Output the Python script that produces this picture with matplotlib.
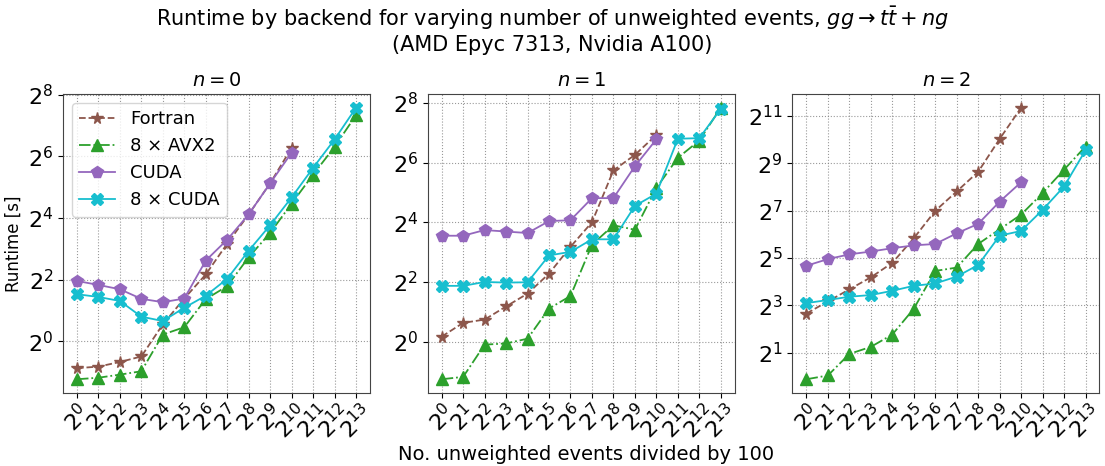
import numpy as np
import matplotlib
matplotlib.use('Agg')
import matplotlib.pyplot as plt
from matplotlib.ticker import NullLocator

# x positions: number of unweighted events / 100, as powers of two
exps = list(range(14))
labels = ['Fortran', '8 × AVX2', 'CUDA', '8 × CUDA']

# runtimes, stored as log2(seconds)
fortran_n0 = [-0.87, -0.82, -0.67, -0.49, 0.55, 1.39, 2.17, 3.17, 4.12, 5.13, 6.28]
avx2_n0 = [-1.23, -1.18, -1.08, -0.97, 0.22, 0.46, 1.37, 1.79, 2.73, 3.52, 4.47, 5.41, 6.31, 7.34]
cuda_n0 = [1.96, 1.83, 1.69, 1.38, 1.27, 1.39, 2.62, 3.30, 4.12, 5.13, 6.12]
cuda8_n0 = [1.53, 1.44, 1.31, 0.80, 0.66, 1.09, 1.48, 2.03, 2.94, 3.77, 4.67, 5.63, 6.55, 7.58]

fortran_n1 = [0.17, 0.63, 0.74, 1.18, 1.61, 2.28, 3.18, 4.00, 5.74, 6.26, 6.93]
avx2_n1 = [-1.26, -1.18, -0.10, -0.06, 0.10, 1.11, 1.53, 3.25, 3.90, 3.75, 5.15, 6.16, 6.74, 7.84]
cuda_n1 = [3.55, 3.55, 3.74, 3.69, 3.64, 4.04, 4.07, 4.81, 4.81, 5.88, 6.78]
cuda8_n1 = [1.87, 1.87, 2.00, 1.98, 1.99, 2.89, 3.01, 3.43, 3.43, 4.55, 4.96, 6.80, 6.82, 7.80]

fortran_n2 = [2.65, 3.16, 3.67, 4.18, 4.79, 5.83, 6.99, 7.81, 8.64, 10.03, 11.35]
avx2_n2 = [-0.13, 0.03, 0.94, 1.24, 1.76, 2.85, 4.45, 4.59, 5.59, 6.21, 6.83, 7.74, 8.73, 9.71]
cuda_n2 = [4.67, 4.95, 5.15, 5.27, 5.41, 5.53, 5.59, 6.04, 6.44, 7.38, 8.20]
cuda8_n2 = [3.09, 3.22, 3.36, 3.43, 3.61, 3.82, 3.92, 4.21, 4.70, 5.94, 6.14, 7.03, 8.02, 9.55]

panels = [
    ('$n = 0$', [fortran_n0, avx2_n0, cuda_n0, cuda8_n0], [0, 2, 4, 6, 8]),
    ('$n = 1$', [fortran_n1, avx2_n1, cuda_n1, cuda8_n1], [0, 2, 4, 6, 8]),
    ('$n = 2$', [fortran_n2, avx2_n2, cuda_n2, cuda8_n2], [1, 3, 5, 7, 9, 11]),
]

styles = [
    dict(color='tab:brown', marker='*', ls='--'),
    dict(color='tab:green', marker='^', ls='-.'),
    dict(color='tab:purple', marker='p', ls='-'),
    dict(color='tab:cyan', marker='X', ls='-'),
]

fig, axes = plt.subplots(1, 3, figsize=(11.05, 4.66), dpi=100)
fig.subplots_adjust(left=0.057, right=0.995, bottom=0.157, top=0.798, wspace=0.188)

for ax, (title, series, yt) in zip(axes, panels):
    for lab, vals, st in zip(labels, series, styles):
        x = [2.0 ** e for e in exps[:len(vals)]]
        y = [2.0 ** v for v in vals]
        ax.plot(x, y, label=lab, ms=8.5, lw=1.3, **st)
    ax.set_xscale('log', base=2)
    ax.set_yscale('log', base=2)
    ax.set_xticks([2.0 ** e for e in exps])
    ax.set_xticklabels(['$2^{%d}$' % e for e in exps], rotation=45, fontsize=16)
    ax.set_yticks([2.0 ** k for k in yt])
    ax.set_yticklabels(['$2^{%d}$' % k for k in yt], fontsize=16)
    ax.xaxis.set_minor_locator(NullLocator())
    ax.yaxis.set_minor_locator(NullLocator())
    ax.tick_params(axis='x', pad=2)
    ax.grid(True, ls=':', lw=0.8, color='gray', alpha=0.8)
    for sp in ax.spines.values():
        sp.set_color('#444444')
    ax.set_title(title, fontsize=14)

axes[0].set_ylabel('Runtime [s]', fontsize=12)
axes[0].legend(loc='upper left', fontsize=13)

fig.suptitle('Runtime by backend for varying number of unweighted events, $gg \\to t\\bar{t} + ng$\n'
             '(AMD Epyc 7313, Nvidia A100)', fontsize=15, y=0.99)
fig.text(0.53, 0.012, 'No. unweighted events divided by 100', ha='center', fontsize=14)

fig.savefig('out.png', dpi=100)
